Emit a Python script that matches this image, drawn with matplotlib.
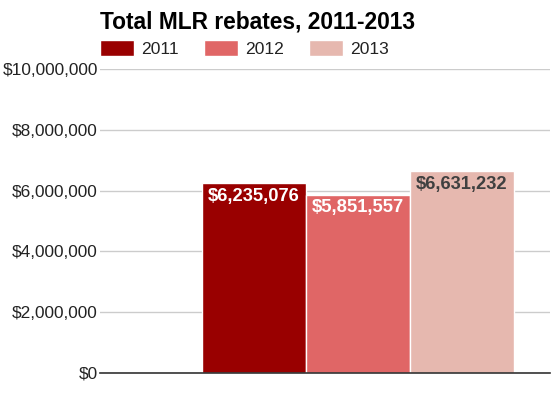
import matplotlib.pyplot as plt
from matplotlib.ticker import FuncFormatter

years = ['2011', '2012', '2013']
rebates = [6235076, 5851557, 6631232]
colors = ['#990000', '#e06666', '#e6b8af']
label_colors = ['white', 'white', '#404040']
y_ticks = [0, 2000000, 4000000, 6000000, 8000000, 10000000]

plt.rcParams['font.family'] = ['Liberation Sans', 'DejaVu Sans']

fig = plt.figure(figsize=(5.52, 3.99), dpi=100)
ax = fig.add_axes([100 / 552, 26 / 399, 450 / 552, 304 / 399])

bars = ax.bar(range(len(years)), rebates, width=1.0, color=colors,
              edgecolor='white', linewidth=1, label=years, zorder=2)

for bar, val, lc in zip(bars, rebates, label_colors):
    ax.annotate('${:,.0f}'.format(val),
                (bar.get_x() + bar.get_width() / 2, bar.get_height()),
                xytext=(0, -3), textcoords='offset points',
                ha='center', va='top', fontsize=13.2, fontweight='bold',
                color=lc, zorder=3)

ax.set_xlim(-1.48, 2.85)
ax.set_ylim(0, 10000000)
ax.set_yticks(y_ticks)
ax.yaxis.set_major_formatter(FuncFormatter(lambda v, p: '${:,.0f}'.format(v)))
ax.tick_params(axis='y', length=0, pad=1.5, labelsize=12.4, labelcolor='#222222')
ax.set_xticks([])
ax.grid(axis='y', color='#cccccc', linewidth=1, zorder=0)
for side in ['top', 'right', 'left']:
    ax.spines[side].set_visible(False)
ax.spines['bottom'].set_color('#333333')
ax.spines['bottom'].set_linewidth(1.2)
ax.spines['bottom'].set_zorder(4)

fig.text(100 / 552, 1 - 28 / 399, 'Total MLR rebates, 2011-2013',
         fontsize=16.4, fontweight='bold', va='baseline', ha='left', color='black')

fig.legend(handles=list(bars), labels=years, loc='upper left',
           bbox_to_anchor=(100 / 552, 1 - 40 / 399), ncol=3, frameon=False,
           fontsize=12.6, handlelength=1.95, handleheight=1.04,
           handletextpad=0.4, columnspacing=1.43, borderpad=0,
           borderaxespad=0, labelcolor='#222222')

fig.savefig('out.png', dpi=100)
